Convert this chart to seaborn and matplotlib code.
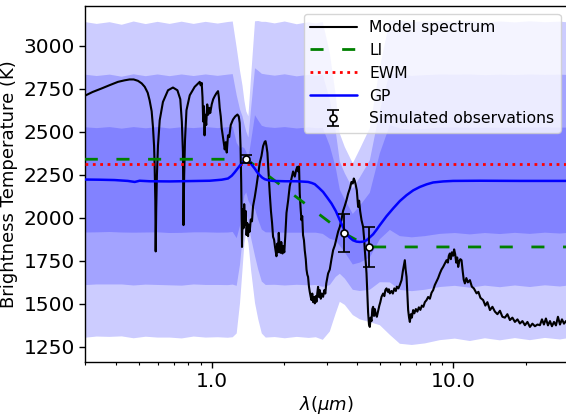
import numpy as np
import matplotlib
matplotlib.use('Agg')
import matplotlib.pyplot as plt
import seaborn as sns
from matplotlib.ticker import FixedLocator, FixedFormatter, LogLocator, NullFormatter

# ---------------- data ----------------
spec_wl = [0.298, 0.321, 0.349, 0.378, 0.409, 0.436, 0.457, 0.475, 0.495, 0.513,
           0.528, 0.543, 0.553, 0.564, 0.571, 0.577, 0.580, 0.584, 0.586, 0.589,
           0.593, 0.599, 0.609, 0.628, 0.659, 0.691, 0.721, 0.741, 0.752, 0.760,
           0.764, 0.769, 0.775, 0.786, 0.811, 0.850, 0.877, 0.892, 0.900, 0.909,
           0.916, 0.922, 0.928, 0.934, 0.940, 0.949, 0.958, 0.967, 0.976, 0.986,
           1.000, 1.014, 1.029, 1.046, 1.062, 1.071, 1.079, 1.090, 1.100, 1.111,
           1.121, 1.132, 1.143, 1.154, 1.168, 1.182, 1.199, 1.225, 1.251, 1.278,
           1.294, 1.306, 1.316, 1.325, 1.335, 1.344, 1.354, 1.363, 1.374, 1.383,
           1.394, 1.404, 1.414, 1.426, 1.437, 1.451, 1.468, 1.483, 1.507, 1.532,
           1.556, 1.581, 1.607, 1.632, 1.658, 1.671, 1.685, 1.701, 1.722, 1.739,
           1.759, 1.778, 1.795, 1.812, 1.829, 1.854, 1.868, 1.882, 1.895, 1.910,
           1.926, 1.941, 1.964, 1.979, 1.998, 2.016, 2.040, 2.072, 2.104, 2.140,
           2.173, 2.208, 2.239, 2.261, 2.283, 2.300, 2.315, 2.333, 2.353, 2.371,
           2.389, 2.410, 2.428, 2.452, 2.469, 2.488, 2.506, 2.528, 2.547, 2.571,
           2.589, 2.609, 2.629, 2.651, 2.672, 2.697, 2.715, 2.736, 2.757, 2.781,
           2.803, 2.829, 2.856, 2.892, 2.926, 2.954, 2.982, 3.034, 3.083, 3.133,
           3.182, 3.234, 3.287, 3.338, 3.392, 3.447, 3.499, 3.557, 3.615, 3.671,
           3.731, 3.792, 3.839, 3.876, 3.913, 3.951, 3.989, 4.040, 4.078, 4.118,
           4.173, 4.236, 4.277, 4.306, 4.346, 4.376, 4.409, 4.443, 4.481, 4.516,
           4.551, 4.590, 4.625, 4.661, 4.701, 4.737, 4.783, 4.829, 4.889, 4.945,
           4.992, 5.049, 5.127, 5.187, 5.236, 5.297, 5.363, 5.414, 5.466, 5.555,
           5.625, 5.706, 5.788, 5.844, 5.928, 6.014, 6.112, 6.188, 6.259, 6.306,
           6.355, 6.410, 6.459, 6.509, 6.566, 6.616, 6.680, 6.743, 6.828, 6.906,
           7.006, 7.107, 7.209, 7.313, 7.418, 7.525, 7.633, 7.758, 7.877, 8.007,
           8.138, 8.261, 8.396, 8.533, 8.664, 8.806, 8.950, 9.087, 9.237, 9.387,
           9.504, 9.596, 9.689, 9.782, 9.876, 10.00, 10.09, 10.19, 10.29, 10.39,
           10.49, 10.61, 10.71, 10.83, 10.95, 11.06, 11.18, 11.34, 11.50, 11.73,
           11.95, 12.18, 12.50, 12.72, 12.97, 13.31, 13.59, 13.86, 14.20, 14.54,
           14.89, 15.25, 15.62, 15.99, 16.38, 16.77, 17.18, 17.59, 18.02, 18.46,
           18.90, 19.36, 19.82, 20.30, 20.79, 21.29, 21.81, 22.34, 22.87, 23.32,
           23.76, 24.22, 24.69, 25.17, 25.65, 26.15, 26.65, 27.16, 27.69, 28.22,
           28.77, 29.32]
spec_T = [2710, 2732, 2752, 2772, 2791, 2800, 2805, 2805, 2797, 2782,
          2762, 2728, 2684, 2620, 2529, 2420, 2316, 2100, 1805, 2050,
          2250, 2420, 2568, 2674, 2742, 2758, 2742, 2690, 2560, 2380,
          1958, 2250, 2450, 2626, 2713, 2762, 2781, 2791, 2771, 2785,
          2700, 2560, 2650, 2480, 2600, 2540, 2660, 2600, 2640, 2610,
          2660, 2690, 2708, 2725, 2737, 2700, 2640, 2590, 2520, 2480,
          2440, 2398, 2440, 2380, 2480, 2470, 2540, 2572, 2590, 2601,
          2590, 2552, 2420, 2200, 1831, 2050, 1940, 2080, 1960, 2040,
          1900, 1970, 1894, 1960, 1920, 1991, 1980, 2068, 2120, 2184,
          2250, 2320, 2360, 2417, 2443, 2446, 2420, 2378, 2250, 2142,
          2040, 1971, 1890, 1874, 1830, 1777, 1850, 1800, 1913, 1830,
          1797, 1860, 1793, 1835, 1800, 1890, 2029, 2100, 2184, 2230,
          2270, 2240, 2280, 2297, 2270, 2300, 2142, 2060, 1987, 2010,
          1900, 1870, 1812, 1760, 1700, 1670, 1657, 1600, 1570, 1540,
          1522, 1560, 1510, 1540, 1503, 1545, 1512, 1560, 1599, 1540,
          1580, 1530, 1560, 1541, 1580, 1560, 1620, 1677, 1700, 1760,
          1812, 1840, 1880, 1920, 1948, 1990, 2040, 2070, 2103, 2140,
          2170, 2209, 2200, 2229, 2215, 2190, 2161, 2064, 2100, 2040,
          1987, 1948, 1880, 1812, 1740, 1677, 1560, 1450, 1380, 1366,
          1420, 1400, 1470, 1483, 1430, 1470, 1440, 1425, 1460, 1490,
          1510, 1541, 1560, 1545, 1580, 1590, 1570, 1585, 1561, 1575,
          1560, 1590, 1575, 1600, 1590, 1610, 1638, 1690, 1730, 1754,
          1700, 1657, 1560, 1464, 1420, 1395, 1440, 1420, 1464, 1445,
          1470, 1455, 1480, 1465, 1490, 1483, 1510, 1522, 1540, 1530,
          1565, 1580, 1610, 1630, 1650, 1677, 1700, 1715, 1735, 1754,
          1740, 1780, 1793, 1760, 1800, 1780, 1817, 1790, 1740, 1770,
          1715, 1750, 1760, 1754, 1690, 1640, 1619, 1650, 1625, 1638,
          1600, 1590, 1561, 1570, 1535, 1522, 1490, 1510, 1464, 1483,
          1455, 1440, 1460, 1425, 1420, 1440, 1406, 1420, 1395, 1410,
          1386, 1400, 1376, 1395, 1366, 1385, 1370, 1380, 1376, 1410,
          1380, 1415, 1375, 1400, 1370, 1395, 1375, 1425, 1380, 1410,
          1385, 1400]

gp_wl = [0.298, 0.343, 0.396, 0.449, 0.480, 0.503, 0.553, 0.670, 0.811, 0.981,
         1.100, 1.168, 1.210, 1.245, 1.285, 1.328, 1.363, 1.394, 1.414, 1.437,
         1.472, 1.507, 1.543, 1.581, 1.619, 1.658, 1.722, 1.795, 2.007, 2.244,
         2.383, 2.506, 2.597, 2.672, 2.777, 2.892, 3.010, 3.133, 3.265, 3.392,
         3.499, 3.615, 3.731, 3.844, 3.979, 4.106, 4.236, 4.376, 4.516, 4.661,
         4.810, 4.970, 5.297, 5.641, 6.014, 6.410, 6.828, 7.280, 7.758, 8.261,
         9.087, 10.00, 12.90, 18.90, 30.00]
gp_T = [2223, 2222, 2220, 2215, 2209, 2216, 2213, 2212, 2214, 2216,
        2222, 2229, 2245, 2265, 2290, 2315, 2332, 2336, 2334, 2326,
        2305, 2287, 2265, 2248, 2234, 2225, 2218, 2215, 2213, 2213,
        2211, 2209, 2203, 2196, 2175, 2151, 2118, 2084, 2040, 1987,
        1945, 1909, 1885, 1870, 1862, 1860, 1862, 1870, 1887, 1905,
        1930, 1958, 2010, 2055, 2098, 2132, 2160, 2180, 2195, 2206,
        2212, 2215, 2216, 2215, 2215]

band_wl = [0.298, 0.334, 0.378, 0.424, 0.475, 0.533, 0.597, 0.670, 0.751, 0.842,
           0.944, 1.059, 1.165, 1.222, 1.269, 1.310, 1.341, 1.366, 1.390, 1.419,
           1.455, 1.511, 1.558, 1.612, 1.674, 1.824, 2.007, 2.251, 2.523, 2.698,
           2.884, 3.083, 3.265, 3.392, 3.558, 3.839, 4.106, 4.516, 4.970, 5.466,
           6.014, 6.743, 7.633, 8.806, 10.16, 11.73, 13.53, 15.62, 18.02, 20.79,
           23.99, 27.69, 30.00]
band_mean = [2221, 2219, 2223, 2217, 2221, 2218, 2222, 2216, 2220, 2219,
             2222, 2218, 2221, 2224, 2159, 2180, 2233, 2267, 2266, 2222,
             2258, 2324, 2278, 2234, 2222, 2219, 2221, 2217, 2220, 2218,
             2215, 2149, 2079, 2001, 1953, 1876, 1905, 1958, 2126, 2235,
             2207, 2200, 2206, 2216, 2219, 2214, 2218, 2215, 2219, 2216,
             2220, 2217, 2219]
band_sd = [306, 303, 305, 302, 307, 303, 306, 304, 307, 303,
           306, 304, 306, 306, 277, 225, 179, 138, 118, 123,
           187, 273, 289, 302, 306, 304, 307, 303, 306, 304,
           308, 270, 211, 163, 153, 147, 165, 188, 250, 305,
           313, 313, 312, 309, 307, 310, 306, 309, 306, 309,
           306, 308, 306]

li_wl = [0.298, 1.393, 3.533, 4.487, 30.0]
li_T = [2341, 2341, 1911, 1831, 1831]
ewm_wl = [0.298, 30.0]
ewm_T = [2312, 2312]
obs_wl = [1.393, 3.533, 4.487]
obs_T = [2341, 1911, 1831]
obs_err = [23, 110, 118]

xtick_vals = [1.0, 10.0]
xtick_labels = ['1.0', '10.0']
ytick_vals = [1250, 1500, 1750, 2000, 2250, 2500, 2750, 3000]

# ---------------- plotting ----------------
sns.set_style('ticks')
plt.rcParams['font.family'] = ['DejaVu Sans']
plt.rcParams['text.color'] = 'black'
plt.rcParams['axes.labelcolor'] = 'black'
plt.rcParams['xtick.color'] = 'black'
plt.rcParams['ytick.color'] = 'black'

fig = plt.figure(figsize=(5.66, 4.15), dpi=100)
ax = fig.add_axes([0.151, 0.1277, 0.8532, 0.8578])
ax.set_xscale('log')

bm = np.array(band_mean, dtype=float)
bs = np.array(band_sd, dtype=float)
for k in (3, 2, 1):
    ax.fill_between(band_wl, bm - k * bs, bm + k * bs, color='blue',
                    alpha=0.2, linewidth=0, edgecolor='none', zorder=1)

sns.lineplot(x=spec_wl, y=spec_T, ax=ax, color='black', linewidth=1.5,
             estimator=None, sort=False, zorder=3)
h_spec = ax.lines[-1]
sns.lineplot(x=li_wl, y=li_T, ax=ax, color='green', linewidth=2.0,
             estimator=None, sort=False, zorder=4)
h_li = ax.lines[-1]
h_li.set_dashes((4.7, 6.7))
sns.lineplot(x=ewm_wl, y=ewm_T, ax=ax, color='red', linewidth=2.0,
             estimator=None, sort=False, zorder=4)
h_ewm = ax.lines[-1]
h_ewm.set_linestyle(':')
sns.lineplot(x=gp_wl, y=gp_T, ax=ax, color='blue', linewidth=1.8,
             estimator=None, sort=False, zorder=5)
h_gp = ax.lines[-1]
h_obs = ax.errorbar(obs_wl, obs_T, yerr=obs_err, fmt='o', color='black',
                    mfc='white', mec='black', ms=5, mew=1.2, capsize=4.5,
                    elinewidth=1.3, capthick=1.3, zorder=6)

ax.set_xlim(0.3, 30)
ax.set_ylim(1162, 3232)
ax.xaxis.set_major_locator(FixedLocator(xtick_vals))
ax.xaxis.set_major_formatter(FixedFormatter(xtick_labels))
ax.xaxis.set_minor_locator(LogLocator(base=10, subs=np.arange(2, 10)))
ax.xaxis.set_minor_formatter(NullFormatter())
ax.set_yticks(ytick_vals)
ax.tick_params(axis='both', which='major', labelsize=14.5, length=4, width=1,
               direction='out', colors='black')
ax.tick_params(axis='x', which='minor', length=2.5, width=0.8, direction='out')
for s in ('left', 'bottom', 'top'):
    ax.spines[s].set_color('black')
    ax.spines[s].set_linewidth(1.0)
ax.spines['right'].set_visible(False)

ax.set_xlabel(r'$\lambda (\mu m)$', fontsize=13, labelpad=1.5)
ax.set_ylabel('Brightness Temperature (K)', fontsize=13)

ax.legend([h_spec, h_li, h_ewm, h_gp, h_obs],
          ['Model spectrum', 'LI', 'EWM', 'GP', 'Simulated observations'],
          loc='upper right', fontsize=11.25, handlelength=3, frameon=True,
          framealpha=0.8, edgecolor='0.8', fancybox=True)

fig.savefig('out.png', dpi=100)
